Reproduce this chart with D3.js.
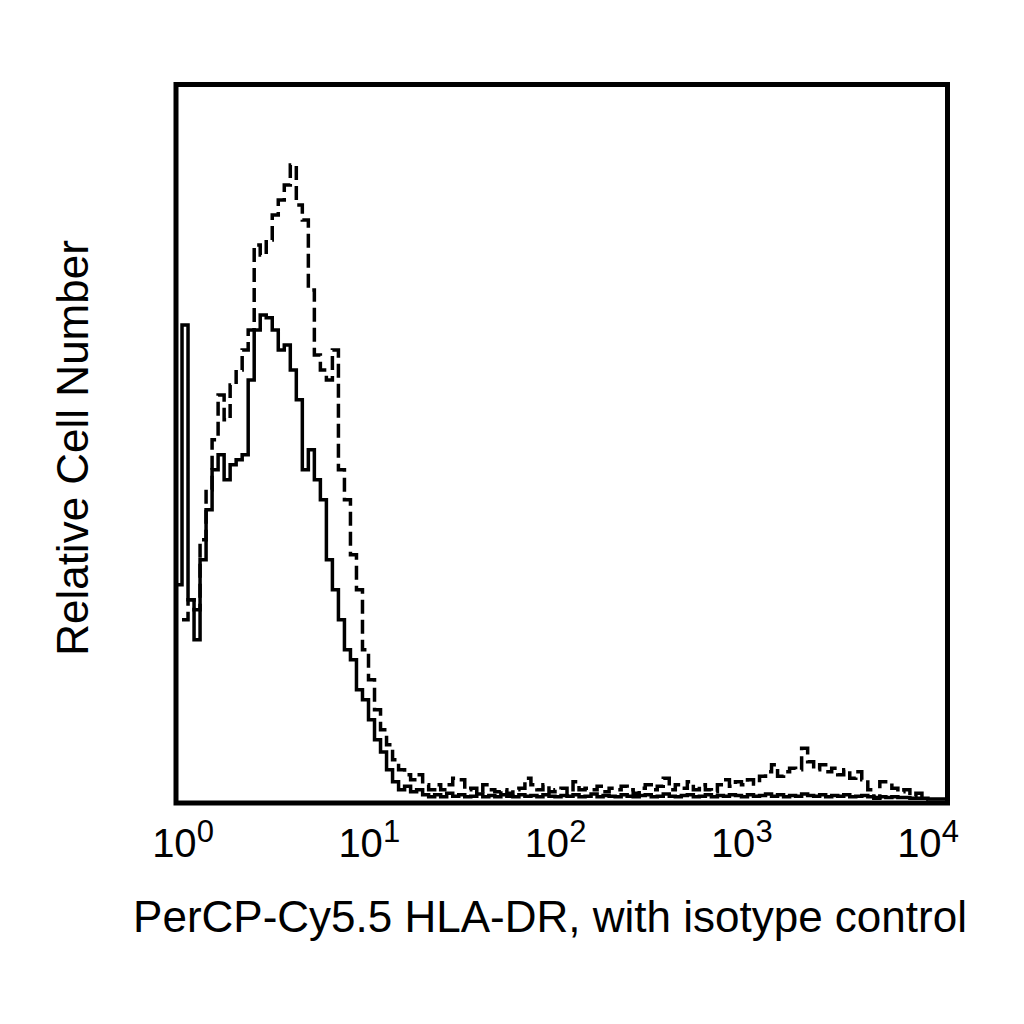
<!DOCTYPE html>
<html>
<head>
<meta charset="utf-8">
<script src="https://cdn.jsdelivr.net/npm/d3@7"></script>
<style>
  body { margin: 0; background: #fff; }
  text { font-family: "Liberation Sans", Arial, sans-serif; fill: #000; }
</style>
</head>
<body>
<svg id="chart" width="1024" height="1024"></svg>
<script>
// 128 log channels over 4 decades, relative cell counts (0-100)
const decades = [0, 1, 2, 3, 4];
const tickLabels = ["10", "10", "10", "10", "10"];
const tickPowers = ["0", "1", "2", "3", "4"];

// isotype control (solid)
const isotype = [
  30.0, 66.4, 27.9, 22.3, 33.5, 40.5, 46.1, 48.2, 44.7, 46.8,
  47.5, 48.2, 58.7, 65.7, 67.8, 67.4, 65.7, 62.9, 63.6, 60.1,
  55.9, 46.1, 48.9, 44.7, 41.9, 33.5, 29.3, 25.1, 20.9, 19.5,
  15.3, 13.9, 11.1, 8.3, 6.6, 4.1, 2.4, 1.3, 1.8, 1.0,
  1.3, 0.6, 0.3, 0.6, 0.3, 0.8, 0.4, 0.6, 0.3, 0.4,
  0.7, 0.3, 0.5, 0.3, 0.6, 0.4, 0.3, 0.6, 0.4, 0.5,
  0.3, 0.6, 0.4, 0.3, 0.5, 0.4, 0.6, 0.3, 0.4, 0.7,
  0.3, 0.5, 0.4, 0.3, 0.6, 0.4, 0.3, 0.5, 0.6, 0.3,
  0.4, 0.7, 0.4, 0.3, 0.5, 0.6, 0.3, 0.4, 0.6, 0.3,
  0.5, 0.4, 0.6, 0.5, 0.3, 0.6, 0.4, 0.5, 0.7, 0.4,
  0.6, 0.3, 0.5, 0.4, 0.7, 0.5, 0.4, 0.6, 0.3, 0.5,
  0.4, 0.6, 0.3, 0.4, 0.5, 0.3, 0.2, 0.3, 0.2, 0.3,
  0.2, 0.2, 0.1, 0.1, 0.1, 0, 0, 0
];

// PerCP-Cy5.5 HLA-DR (dashed)
const hladr = [
  null, 25.1, 27.9, 26.5, 36.3, 43.3, 50.3, 56.6, 53.1, 58.0,
  60.1, 62.9, 65.7, 77.6, 76.2, 78.3, 81.8, 83.9, 86.0, 88.8,
  83.2, 81.1, 71.3, 62.2, 60.1, 58.7, 62.9, 46.1, 41.9, 34.2,
  29.3, 20.9, 16.7, 12.5, 9.7, 7.6, 5.5, 4.1, 3.4, 2.7,
  3.4, 2.0, 1.3, 2.0, 1.3, 2.0, 2.9, 2.7, 1.3, 1.5,
  0.8, 2.0, 1.3, 1.0, 1.3, 0.8, 1.3, 1.5, 2.9, 2.0,
  1.3, 2.0, 1.0, 1.3, 1.5, 0.8, 2.4, 1.3, 1.5, 1.3,
  1.8, 1.0, 1.5, 1.3, 1.8, 1.3, 0.8, 1.5, 2.0, 1.3,
  1.8, 2.9, 1.3, 2.0, 1.5, 2.4, 1.3, 2.0, 1.3, 1.0,
  2.0, 2.7, 1.8, 2.4, 2.0, 2.7, 2.1, 3.2, 3.8, 4.8,
  3.2, 3.8, 4.3, 4.1, 7.1, 5.2, 4.1, 4.8, 3.8, 4.3,
  3.4, 4.1, 2.9, 3.8, 2.7, 1.3, 0.1, 2.4, 2.4, 1.5,
  1.0, 1.3, 0.4, 0.8, 0, null, null, null
];

const nChannels = isotype.length;

const svg = d3.select("#chart");
const frame = { left: 176, top: 84.5, right: 947.5, bottom: 803 };

const x = d3.scaleLog().domain([1, 1e4]).range([176, 946]);
const y = d3.scaleLinear().domain([0, 100]).range([799, 85]);
// label centres sit slightly inside the decade positions in the original
const labelX = d3.scaleLinear().domain([0, 4]).range([183, 928]);

// channel edge in data units
const edge = i => Math.pow(10, i * 4 / nChannels);

function stepPoints(values) {
  const pts = [];
  let last = null;
  values.forEach((v, i) => {
    if (v == null) return;
    pts.push([x(edge(i)), y(v)]);
    last = [x(edge(i + 1)), y(v)];
  });
  if (last) pts.push(last);
  return pts;
}

const line = d3.line().curve(d3.curveStepAfter);

svg.append("path")
  .attr("d", line(stepPoints(isotype)))
  .attr("fill", "none")
  .attr("stroke", "#000")
  .attr("stroke-width", 3.5);

svg.append("path")
  .attr("d", line(stepPoints(hladr)))
  .attr("fill", "none")
  .attr("stroke", "#000")
  .attr("stroke-width", 3.5)
  .attr("stroke-dasharray", "14,6");

svg.append("rect")
  .attr("x", frame.left)
  .attr("y", frame.top)
  .attr("width", frame.right - frame.left)
  .attr("height", frame.bottom - frame.top)
  .attr("fill", "none")
  .attr("stroke", "#000")
  .attr("stroke-width", 5);

// decade labels 10^n
const lbl = svg.selectAll("text.tick")
  .data(decades)
  .enter()
  .append("text")
  .attr("class", "tick")
  .attr("x", d => labelX(d))
  .attr("y", 857)
  .attr("text-anchor", "middle")
  .style("font-size", "40px");
lbl.append("tspan").text((d, i) => tickLabels[i]);
lbl.append("tspan")
  .attr("dy", -15)
  .style("font-size", "31px")
  .text((d, i) => tickPowers[i]);

svg.append("text")
  .attr("x", 550)
  .attr("y", 932)
  .attr("text-anchor", "middle")
  .style("font-size", "44px")
  .text("PerCP-Cy5.5 HLA-DR, with isotype control");

svg.append("text")
  .attr("transform", "translate(88,448) rotate(-90)")
  .attr("text-anchor", "middle")
  .style("font-size", "44px")
  .text("Relative Cell Number");
</script>
</body>
</html>
